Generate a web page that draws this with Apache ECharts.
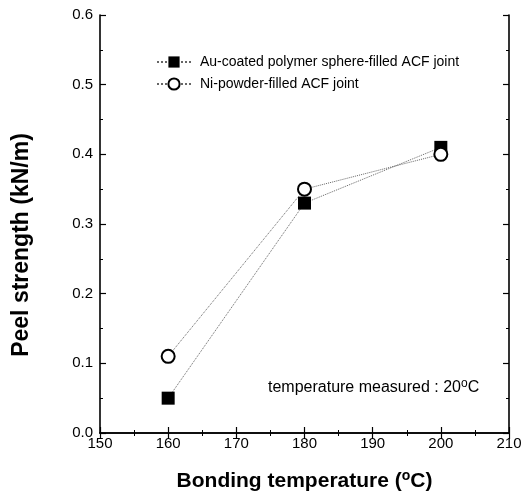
<!DOCTYPE html>
<html lang="en">
<head>
    <meta charset="UTF-8">
    <title>Peel strength</title>
    <script type="text/javascript" src="https://cdn.jsdelivr.net/npm/echarts@6/dist/echarts.min.js"></script>
    <style>
        body { margin: 0; background: #fff; }
        #chart { width: 529px; height: 494px; }
    </style>
</head>
<body>
<div id="chart"></div>
<script>
    // data
    var temps = [160, 180, 200];
    var auValues = [0.05, 0.33, 0.41];
    var niValues = [0.11, 0.35, 0.40];
    var seriesNames = ['Au-coated polymer sphere-filled ACF joint', 'Ni-powder-filled ACF joint'];
    var noteText = 'temperature measured : 20';

    function pairs(xs, ys) {
        var res = [];
        for (var i = 0; i < xs.length; i++) {
            res.push([xs[i], ys[i]]);
        }
        return res;
    }

    var font = 'Liberation Sans, Arial, sans-serif';
    var mychart = echarts.init(document.getElementById('chart'));

    // mirrored frame axes: ticks inside, no labels
    function frameAxis(extra) {
        var ax = {
            axisLine: {show: true, lineStyle: {color: '#000', width: 1.6}},
            axisTick: {show: true, inside: true, length: 6, lineStyle: {color: '#000', width: 1.2}},
            minorTick: {show: true, splitNumber: 2, length: 3, lineStyle: {color: '#000', width: 1}},
            splitLine: {show: false},
            axisLabel: {show: false}
        };
        for (var k in extra) ax[k] = extra[k];
        return ax;
    }

    var option = {
        backgroundColor: '#fff',
        animation: false,
        textStyle: {fontFamily: font},
        grid: {left: 100, right: 20, top: 15, bottom: 61, outerBoundsMode: 'none'},
        legend: {
            orient: 'vertical',
            left: 151,
            top: 50,
            itemGap: 8,
            itemWidth: 34,
            itemHeight: 14,
            textStyle: {fontFamily: font, fontSize: 14, color: '#000', padding: [0, 0, 0, 4]},
            data: seriesNames
        },
        xAxis: [
            frameAxis({
                type: 'value', min: 150, max: 210, interval: 10, position: 'bottom',
                axisLabel: {show: true, color: '#000', fontSize: 15, fontFamily: font, margin: 3},
                name: '{a|Bonding temperature (}{s|o}{a|C)}',
                nameLocation: 'middle',
                nameGap: 36,
                nameTextStyle: {
                    rich: {
                        a: {fontSize: 21, fontWeight: 'bold', fontFamily: font, color: '#000'},
                        s: {fontSize: 14, fontWeight: 'bold', fontFamily: font, color: '#000', padding: [0, 0, 10, 0]}
                    }
                }
            }),
            frameAxis({type: 'value', min: 150, max: 210, interval: 10, position: 'top'})
        ],
        yAxis: [
            frameAxis({
                type: 'value', min: 0, max: 0.6, interval: 0.1, position: 'left',
                axisLabel: {
                    show: true, color: '#000', fontSize: 15, fontFamily: font, margin: 7,
                    formatter: function (v) { return v.toFixed(1); }
                },
                name: 'Peel strength (kN/m)',
                nameLocation: 'middle',
                nameGap: 67,
                nameTextStyle: {fontSize: 23, fontWeight: 'bold', fontFamily: font, color: '#000', padding: [0, 42, 0, 0]}
            }),
            frameAxis({type: 'value', min: 0, max: 0.6, interval: 0.1, position: 'right'})
        ],
        graphic: [{
            type: 'text',
            left: 268,
            top: 378,
            style: {
                text: '{a|' + noteText + '}{s|o}{a|C}',
                fill: '#000',
                rich: {
                    a: {fontSize: 16, fontFamily: font, fill: '#000'},
                    s: {fontSize: 12, fontFamily: font, fill: '#000', padding: [0, 0, 8, 0]}
                }
            }
        }],
        series: [
            {
                name: seriesNames[0],
                type: 'line',
                data: pairs(temps, auValues),
                symbol: 'rect',
                symbolSize: 13,
                itemStyle: {color: '#000'},
                lineStyle: {color: '#666', width: 1, type: 'dotted'},
                z: 3
            },
            {
                name: seriesNames[1],
                type: 'line',
                data: pairs(temps, niValues),
                symbol: 'circle',
                symbolSize: 13,
                itemStyle: {color: '#fff', borderColor: '#000', borderWidth: 2},
                lineStyle: {color: '#666', width: 1, type: 'dotted'},
                z: 4
            }
        ]
    };
    mychart.setOption(option);
</script>
</body>
</html>
